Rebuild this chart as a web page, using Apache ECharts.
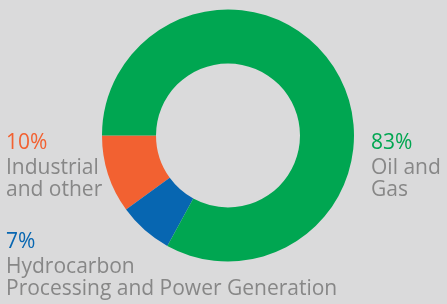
<!DOCTYPE html>
<html>
<head>
<meta charset="utf-8">
<script src="https://cdn.jsdelivr.net/npm/echarts@6/dist/echarts.min.js"></script>
<style>
  html, body { margin: 0; padding: 0; background: #dadadb; }
  #chart { width: 447px; height: 304px; }
</style>
</head>
<body>
<div id="chart"></div>
<script>
// data
const names = ['Industrial\nand other', 'Hydrocarbon\nProcessing and Power Generation', 'Oil and\nGas']
const shares = [10, 7, 83]
const colors = ['#f26131', '#0766b1', '#00a651']
// where each label block sits (top-left corner)
const labelPos = [[6, 129], [6, 228], [371, 129]]

const chart = echarts.init(document.getElementById('chart'))

const textGray = '#878787'
const font = 'Open Sans'
const fs = 21

const data = names.map((n, i) => ({
  name: n,
  value: shares[i],
  itemStyle: { color: colors[i] },
  label: {
    rich: {
      p: { color: colors[i], fontSize: fs, lineHeight: 28, fontFamily: font },
      n: { color: textGray, fontSize: fs, lineHeight: 22, fontFamily: font }
    }
  }
}))

chart.setOption({
  backgroundColor: '#dadadb',
  animation: false,
  series: [{
    type: 'pie',
    center: [228, 135.5],
    radius: [72, 126],
    startAngle: 180,
    clockwise: false,
    avoidLabelOverlap: false,
    silent: true,
    labelLine: { show: false },
    label: {
      show: true,
      position: 'outside',
      align: 'left',
      formatter: (p) => {
        const lines = p.name.split('\n').map(s => '{n|' + s + '}')
        return '{p|' + p.value + '%}\n' + lines.join('\n')
      }
    },
    labelLayout: (params) => {
      const pos = labelPos[params.dataIndex]
      return { x: pos[0], y: pos[1], align: 'left', verticalAlign: 'top' }
    },
    data: data
  }]
})
</script>
</body>
</html>
